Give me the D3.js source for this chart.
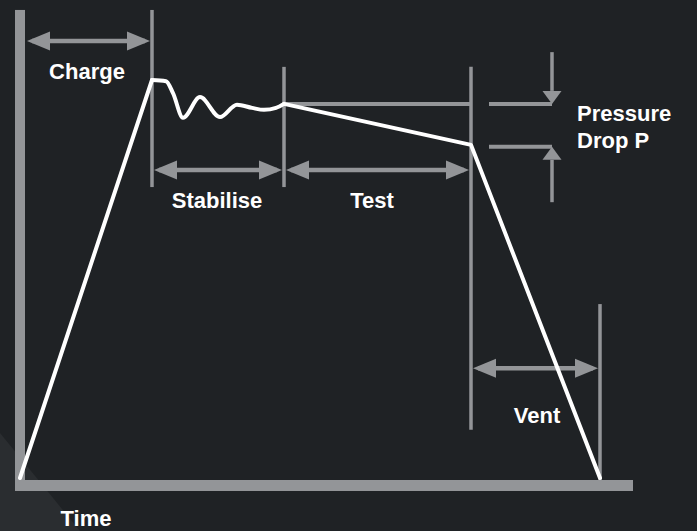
<!DOCTYPE html>
<html>
<head>
<meta charset="utf-8">
<script src="https://cdn.jsdelivr.net/npm/d3@7"></script>
<style>
  html, body { margin: 0; padding: 0; background: #1f2225; }
  svg { display: block; }
  text { font-family: "Liberation Sans", Arial, sans-serif; font-weight: bold; font-size: 22px; fill: #ffffff; }
</style>
</head>
<body>
<div id="wrapper"></div>
<script>
// pressure trace, time in arbitrary units, pressure in % of charge pressure
const traceTime     = [0, 13.2, 14.6, 15.3, 16.3, 18.0, 20.0, 21.7, 23.2, 24.4, 25.6, 26.4, 45.1, 58];
const tracePressure = [0, 100, 99.7, 96.7, 90.5, 95.7, 90.7, 93.8, 93.0, 92.5, 93.0, 94.0, 83.7, 0];

const phaseNames = ["Charge", "Stabilise", "Test", "Vent"];
const phaseStart = [0, 13.2, 26.4, 45.1];
const phaseEnd   = [13.2, 26.4, 45.1, 58];

const axisLabels = ["Time"];
const dropLabel = ["Pressure", "Drop P"];

const width = 697, height = 531;
const gray = "#939598";

const svg = d3.select("#wrapper").append("svg")
  .attr("width", width)
  .attr("height", height);

svg.append("rect").attr("width", width).attr("height", height).attr("fill", "#1f2225");
// faint corner shape
svg.append("path")
  .attr("d", "M0,433 L0,531 L80,531 Z")
  .attr("fill", "#2a2d30");

const xScale = d3.scaleLinear().domain([0, 58]).range([20, 600]);
const yScale = d3.scaleLinear().domain([0, 100]).range([478, 80]);

const data = traceTime.map((t, i) => ({ t, p: tracePressure[i] }));

// axes as thick bars
svg.append("rect")
  .attr("x", xScale(0) - 5)
  .attr("y", yScale(117.6))
  .attr("width", 10)
  .attr("height", yScale(0) + 13 - yScale(117.6))
  .attr("fill", gray);
svg.append("rect")
  .attr("x", xScale(0) - 5)
  .attr("y", yScale(0) + 2)
  .attr("width", xScale(61.3) - xScale(0) + 5)
  .attr("height", 11)
  .attr("fill", gray);

// guide lines
function vLine(t, p0, p1) {
  svg.append("line")
    .attr("x1", xScale(t)).attr("x2", xScale(t))
    .attr("y1", yScale(p0)).attr("y2", yScale(p1))
    .attr("stroke", gray).attr("stroke-width", 3.5);
}
function hLine(t0, t1, p) {
  svg.append("line")
    .attr("x1", xScale(t0)).attr("x2", xScale(t1))
    .attr("y1", yScale(p)).attr("y2", yScale(p))
    .attr("stroke", gray).attr("stroke-width", 4);
}
function dblArrow(t0, t1, p) {
  const y = yScale(p), x0 = xScale(t0) + 2, x1 = xScale(t1) - 2;
  const hl = 23, hw = 9.5;
  svg.append("line")
    .attr("x1", x0 + 5).attr("x2", x1 - 5)
    .attr("y1", y).attr("y2", y)
    .attr("stroke", gray).attr("stroke-width", 4.5);
  svg.append("path")
    .attr("d", `M${x0},${y} L${x0 + hl},${y - hw} L${x0 + hl},${y + hw} Z`)
    .attr("fill", gray);
  svg.append("path")
    .attr("d", `M${x1},${y} L${x1 - hl},${y - hw} L${x1 - hl},${y + hw} Z`)
    .attr("fill", gray);
}
function vArrow(t, pFrom, pTip) {
  const x = xScale(t), y0 = yScale(pFrom), y1 = yScale(pTip);
  const dir = y1 > y0 ? 1 : -1;
  const hl = 13, hw = 9.5;
  svg.append("line")
    .attr("x1", x).attr("x2", x)
    .attr("y1", y0).attr("y2", y1 - dir * hl)
    .attr("stroke", gray).attr("stroke-width", 3.5);
  svg.append("path")
    .attr("d", `M${x},${y1} L${x - hw},${y1 - dir * hl} L${x + hw},${y1 - dir * hl} Z`)
    .attr("fill", gray);
}

const testStartP = tracePressure[11], testEndP = tracePressure[12];

vLine(phaseEnd[0], 117.6, 73.1);
vLine(phaseEnd[1], 103.3, 73.1);
vLine(phaseEnd[2], 103.3, 12.1);
vLine(phaseEnd[3], 43.7, -0.7);
hLine(phaseStart[2], phaseEnd[2], testStartP);

dblArrow(phaseStart[0] + 0.5, phaseEnd[0], 109.8);
dblArrow(phaseStart[1], phaseEnd[1], 77.4);
dblArrow(phaseStart[2], phaseEnd[2], 77.4);
dblArrow(phaseStart[3], phaseEnd[3], 27.6);

// pressure drop marker
hLine(46.9, 53.2, testStartP);
hLine(46.9, 53.2, testEndP - 0.5);
vArrow(53.2, 107, testStartP);
vArrow(53.2, 69.3, testEndP - 0.5);

// trace
const lin = d3.line().x(d => xScale(d.t)).y(d => yScale(d.p));
const smooth = d3.line().x(d => xScale(d.t)).y(d => yScale(d.p)).curve(d3.curveMonotoneX);

const traceStyle = sel => sel.attr("fill", "none").attr("stroke", "#ffffff")
  .attr("stroke-width", 4).attr("stroke-linejoin", "round").attr("stroke-linecap", "round");

svg.append("path").attr("d", lin(data.slice(0, 2))).call(traceStyle);
svg.append("path").attr("d", smooth(data.slice(1, 12))).call(traceStyle);
svg.append("path").attr("d", lin(data.slice(11))).call(traceStyle);

// labels
const labelPos = [[6.7, 100.3], [19.7, 67.8], [35.2, 67.8], [51.7, 13.8]];
svg.selectAll("text.phase")
  .data(phaseNames)
  .join("text")
  .attr("class", "phase")
  .attr("x", (d, i) => xScale(labelPos[i][0]))
  .attr("y", (d, i) => yScale(labelPos[i][1]))
  .attr("text-anchor", "middle")
  .text(d => d);

svg.selectAll("text.drop")
  .data(dropLabel)
  .join("text")
  .attr("class", "drop")
  .attr("x", xScale(55.7))
  .attr("y", (d, i) => yScale(89.7 - i * 6.8))
  .text(d => d);

svg.append("text")
  .attr("x", xScale(6.6))
  .attr("y", yScale(-12.1))
  .attr("text-anchor", "middle")
  .text(axisLabels[0]);
</script>
</body>
</html>
